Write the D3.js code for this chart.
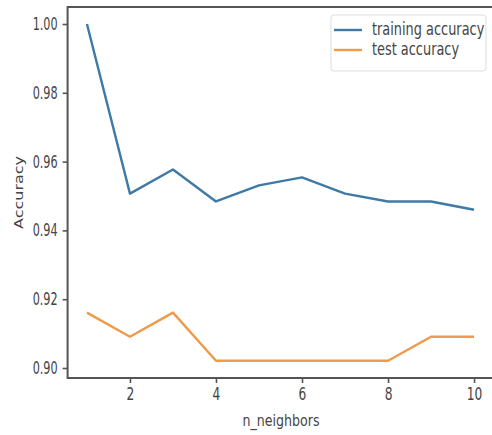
<!DOCTYPE html>
<html>
<head>
<meta charset="utf-8">
<script src="https://cdn.jsdelivr.net/npm/d3@7/dist/d3.min.js"></script>
<style>
  html, body { margin: 0; padding: 0; background: #fff; }
  svg { display: block; }
  text { font-family: "DejaVu Sans", sans-serif; fill: #444; }
</style>
</head>
<body>
<svg id="chart" width="492" height="435"></svg>
<script>
// k-NN accuracy by number of neighbours
const neighbors = [1, 2, 3, 4, 5, 6, 7, 8, 9, 10];
const trainingAccuracy = [1.0, 0.9507, 0.9577, 0.9484, 0.9531, 0.9554, 0.9507, 0.9484, 0.9484, 0.9460];
const testAccuracy = [0.9161, 0.9091, 0.9161, 0.9021, 0.9021, 0.9021, 0.9021, 0.9021, 0.9091, 0.9091];
const xTicks = [2, 4, 6, 8, 10];
const yTicks = [0.90, 0.92, 0.94, 0.96, 0.98, 1.00];
const seriesNames = ["training accuracy", "test accuracy"];
const seriesColors = ["#3f7aa6", "#ee9a4a"];

const svg = d3.select("#chart");
const plotLeft = 67.6, plotRight = 493.4, plotTop = 7, plotBottom = 378;

const x = d3.scaleLinear().domain([0.55, 10.45]).range([plotLeft, plotRight]);
const y = d3.scaleLinear().domain([0.89709, 1.00494]).range([plotBottom, plotTop]);

// narrow the lettering horizontally around its anchor point
function squeeze(sel, sx) {
  sel.each(function () {
    const t = d3.select(this);
    const tx = +t.attr("x") || 0, ty = +t.attr("y") || 0;
    t.attr("transform", `translate(${tx},${ty}) scale(${sx},1) translate(${-tx},${-ty})`);
  });
}

// lines
const line = d3.line().x((d, i) => x(neighbors[i])).y(d => y(d));
[trainingAccuracy, testAccuracy].forEach((vals, k) => {
  svg.append("path")
    .datum(vals)
    .attr("d", line)
    .attr("fill", "none")
    .attr("stroke", seriesColors[k])
    .attr("stroke-width", 2.4)
    .attr("stroke-linejoin", "round");
});

// axes
const xAxis = svg.append("g")
  .attr("transform", `translate(0,${plotBottom})`)
  .call(d3.axisBottom(x).tickValues(xTicks).tickFormat(d3.format("d")).tickSize(5).tickPadding(5));
const yAxis = svg.append("g")
  .attr("transform", `translate(${plotLeft},0)`)
  .call(d3.axisLeft(y).tickValues(yTicks).tickFormat(d3.format(".2f")).tickSize(5).tickPadding(5));

[xAxis, yAxis].forEach(g => {
  g.select(".domain").remove();
  g.selectAll(".tick line").attr("stroke", "#555").attr("stroke-width", 1.6);
  g.selectAll(".tick text")
    .attr("font-size", 17)
    .attr("font-family", "DejaVu Sans, sans-serif")
    .attr("fill", "#444");
});
squeeze(yAxis.selectAll(".tick text"), 0.66);
squeeze(xAxis.selectAll(".tick text"), 0.72);

// frame
svg.append("rect")
  .attr("x", plotLeft).attr("y", plotTop)
  .attr("width", plotRight - plotLeft).attr("height", plotBottom - plotTop)
  .attr("fill", "none").attr("stroke", "#555").attr("stroke-width", 2);

// axis titles
const xt = svg.append("text")
  .attr("x", 281).attr("y", 426)
  .attr("text-anchor", "middle").attr("font-size", 16)
  .text("n_neighbors");
squeeze(xt, 0.79);

svg.append("text")
  .attr("transform", `translate(23,${(plotTop + plotBottom) / 2}) rotate(-90) scale(1,0.72)`)
  .attr("text-anchor", "middle").attr("font-size", 16)
  .text("Accuracy");

// legend
const lg = svg.append("g");
lg.append("rect")
  .attr("x", 331).attr("y", 15).attr("width", 155).attr("height", 56)
  .attr("rx", 3).attr("fill", "#fff").attr("stroke", "#ddd").attr("stroke-width", 1);
seriesNames.forEach((name, k) => {
  const ly = 30 + k * 20;
  lg.append("line")
    .attr("x1", 334).attr("x2", 362).attr("y1", ly).attr("y2", ly)
    .attr("stroke", seriesColors[k]).attr("stroke-width", 2.4);
  const t = lg.append("text")
    .attr("x", 372).attr("y", ly + 5)
    .attr("font-size", 17)
    .text(name);
  squeeze(t, 0.76);
});
</script>
</body>
</html>
